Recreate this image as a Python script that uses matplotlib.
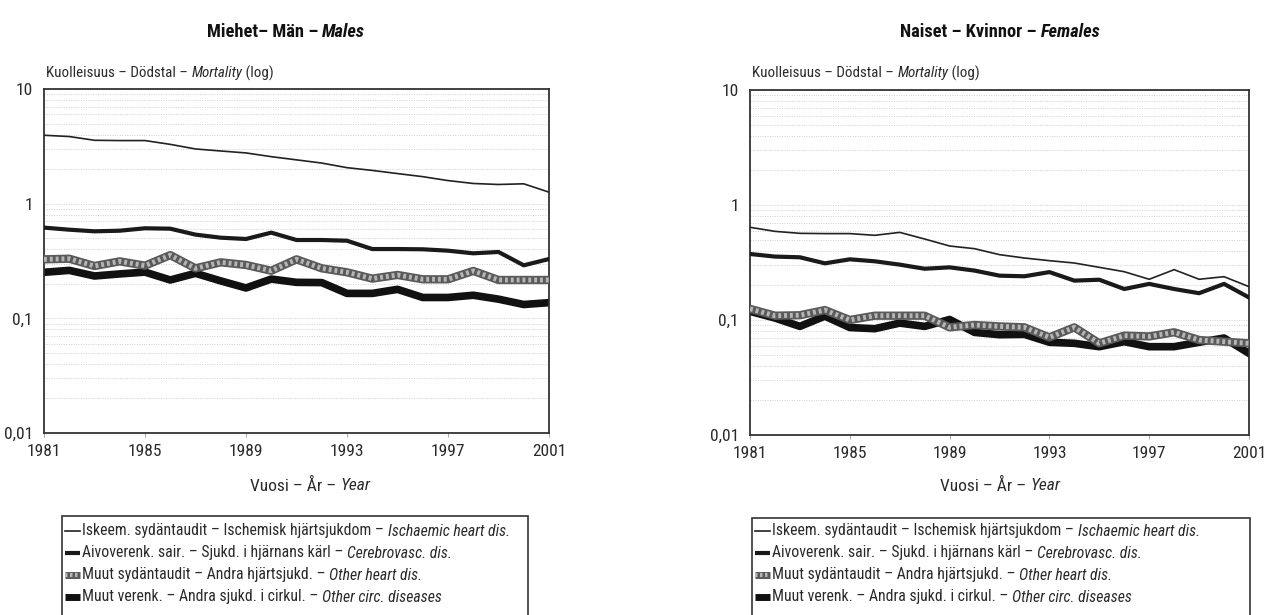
import matplotlib
matplotlib.use('Agg')
import matplotlib.pyplot as plt
from matplotlib import font_manager as fm
from matplotlib.patches import Rectangle
from matplotlib.lines import Line2D

# ---------------- data ----------------
years = list(range(1981, 2002))

male_ischaemic = [3.95, 3.85, 3.57, 3.55, 3.55, 3.29, 3.00, 2.88, 2.77, 2.57, 2.41,
                  2.26, 2.06, 1.95, 1.83, 1.72, 1.59, 1.50, 1.47, 1.49, 1.26]
male_cerebro = [0.618, 0.593, 0.574, 0.581, 0.610, 0.605, 0.537, 0.505, 0.492, 0.559, 0.482,
                0.482, 0.475, 0.402, 0.402, 0.400, 0.389, 0.369, 0.379, 0.290, 0.329]
male_otherheart = [0.327, 0.331, 0.286, 0.314, 0.288, 0.356, 0.273, 0.308, 0.292, 0.260, 0.327,
                   0.273, 0.252, 0.222, 0.239, 0.219, 0.219, 0.259, 0.216, 0.216, 0.216]
male_othercirc = [0.252, 0.262, 0.234, 0.244, 0.253, 0.216, 0.247, 0.212, 0.184, 0.220, 0.206,
                  0.205, 0.165, 0.165, 0.179, 0.152, 0.152, 0.159, 0.147, 0.132, 0.137]

female_ischaemic = [0.640, 0.590, 0.567, 0.564, 0.564, 0.545, 0.578, 0.506, 0.440, 0.417, 0.370,
                    0.346, 0.328, 0.313, 0.287, 0.263, 0.226, 0.274, 0.226, 0.238, 0.195]
female_cerebro = [0.375, 0.356, 0.351, 0.311, 0.337, 0.324, 0.303, 0.279, 0.287, 0.269, 0.243,
                  0.240, 0.261, 0.220, 0.224, 0.186, 0.206, 0.186, 0.171, 0.206, 0.157]
female_otherheart = [0.125, 0.109, 0.110, 0.122, 0.100, 0.109, 0.109, 0.109, 0.0863, 0.0905, 0.088,
                     0.0863, 0.0706, 0.0863, 0.0627, 0.0731, 0.072, 0.0782, 0.067, 0.0648, 0.0627]
female_othercirc = [0.119, 0.104, 0.088, 0.108, 0.086, 0.084, 0.094, 0.088, 0.101, 0.078, 0.0745,
                    0.075, 0.064, 0.0627, 0.0586, 0.0648, 0.0586, 0.0586, 0.064, 0.0697, 0.0513]

x_ticks = [1981, 1985, 1989, 1993, 1997, 2001]
y_ticks = [0.01, 0.1, 1, 10]
y_tick_labels = ['0,01', '0,1', '1', '10']

title_m = [('Miehet– Män – ', 'normal'), ('Males', 'italic')]
title_f = [('Naiset – Kvinnor – ', 'normal'), ('Females', 'italic')]
ylab = [('Kuolleisuus – Dödstal – ', 'normal'), ('Mortality', 'italic'), (' (log)', 'normal')]
xlab = [('Vuosi – År – ', 'normal'), ('Year', 'italic')]
legend_items = [
    [('Iskeem. sydäntaudit – Ischemisk hjärtsjukdom – ', 'normal'), ('Ischaemic heart dis.', 'italic')],
    [('Aivoverenk. sair. – Sjukd. i hjärnans kärl – ', 'normal'), ('Cerebrovasc. dis.', 'italic')],
    [('Muut sydäntaudit – Andra hjärtsjukd. – ', 'normal'), ('Other heart dis.', 'italic')],
    [('Muut verenk. – Andra sjukd. i cirkul. – ', 'normal'), ('Other circ. diseases', 'italic')],
]

# ---------------- fonts ----------------
names = {f.name for f in fm.fontManager.ttflist}
FONT = 'DejaVu Sans'
for cand in ['Liberation Sans Narrow', 'Roboto Condensed', 'Open Sans Condensed', 'Roboto', 'Liberation Sans']:
    if cand in names:
        FONT = cand
        break
plt.rcParams['font.family'] = [FONT, 'DejaVu Sans']

W, H = 1278, 615
fig = plt.figure(figsize=(W / 100, H / 100), dpi=100)
fig.patch.set_facecolor('white')
renderer = fig.canvas.get_renderer()

TXT = '#2a2a2a'


def fx(px):
    return px / W


def fy(py):
    return 1 - py / H


def mixed(x, y, segs, size, ha='left', weight='normal', color=TXT):
    texts = []
    widths = []
    for s, style in segs:
        t = fig.text(0, fy(y), s, fontsize=size, fontstyle=style, fontweight=weight,
                     va='center', ha='left', color=color)
        widths.append(t.get_window_extent(renderer=renderer).width)
        texts.append(t)
    total = sum(widths)
    start = x - total / 2 if ha == 'center' else x
    cur = start
    for t, w in zip(texts, widths):
        t.set_x(fx(cur))
        cur += w


def style_line(ax, y, kind):
    if kind == 'thin':
        ax.plot(years, y, color='#222222', lw=1.2, zorder=5)
    elif kind == 'med':
        ax.plot(years, y, color='#1a1a1a', lw=3.0, zorder=4)
    elif kind == 'hatch':
        ax.plot(years, y, color='#5a5a5a', lw=6.0, zorder=3)
        ax.plot(years, y, color='#b5b5b5', lw=3.5, dashes=(0.6, 0.6), zorder=3.1)
    elif kind == 'thick':
        ax.plot(years, y, color='#111111', lw=5.5, zorder=2)


def make_axes(left, right, top, bottom, series):
    ax = fig.add_axes([fx(left), fy(bottom), fx(right - left), (bottom - top) / H])
    ax.set_yscale('log')
    ax.set_xlim(1981, 2001)
    ax.set_ylim(0.01, 10)
    for y, kind in series:
        style_line(ax, y, kind)
    ax.set_xticks(x_ticks)
    ax.set_xticklabels([str(v) for v in x_ticks], fontsize=12.5, color=TXT)
    ax.set_yticks(y_ticks)
    ax.set_yticklabels(y_tick_labels, fontsize=12.5, color=TXT)
    ax.yaxis.set_minor_locator(matplotlib.ticker.LogLocator(base=10, subs=range(2, 10)))
    ax.yaxis.set_minor_formatter(matplotlib.ticker.NullFormatter())
    ax.tick_params(axis='y', which='both', length=0, pad=8)
    ax.tick_params(axis='x', which='major', length=3, color='#aaaaaa', pad=5)
    ax.grid(True, which='both', axis='y', color='#d0d0d0', lw=0.7, linestyle=(0, (1, 1.5)))
    for sp in ax.spines.values():
        sp.set_color('#333333')
        sp.set_linewidth(1.3)
    ax.set_axisbelow(True)
    return ax


axL = make_axes(44, 549, 89, 433, [(male_othercirc, 'thick'), (male_otherheart, 'hatch'),
                                    (male_cerebro, 'med'), (male_ischaemic, 'thin')])
axR = make_axes(750, 1249, 90, 435, [(female_othercirc, 'thick'), (female_otherheart, 'hatch'),
                                      (female_cerebro, 'med'), (female_ischaemic, 'thin')])

# titles
mixed(286, 32, title_m, 13.2, ha='center', weight='bold', color='#111111')
mixed(1000, 32, title_f, 13.2, ha='center', weight='bold', color='#111111')
# y-labels
mixed(46, 73, ylab, 10.8)
mixed(752, 73, ylab, 10.8)
# x-labels
mixed(310, 486, xlab, 12.5, ha='center')
mixed(1000, 486, xlab, 12.5, ha='center')


def legend(x0, x1, top):
    rect = Rectangle((fx(x0), fy(H + 20)), fx(x1 - x0), (H + 20 - top) / H,
                     transform=fig.transFigure, fill=False, ec='#333333', lw=1.2)
    fig.add_artist(rect)
    ys = [531, 553, 575, 597]
    hx0, hx1 = x0 + 3, x0 + 18
    kinds = ['thin', 'med', 'hatch', 'thick']
    for yy, kind, segs in zip(ys, kinds, legend_items):
        xs = [fx(hx0), fx(hx1)]
        yv = [fy(yy), fy(yy)]
        if kind == 'thin':
            fig.add_artist(Line2D(xs, yv, color='#222222', lw=1.2, transform=fig.transFigure))
        elif kind == 'med':
            fig.add_artist(Line2D(xs, yv, color='#1a1a1a', lw=3.0, transform=fig.transFigure,
                                  solid_capstyle='butt'))
        elif kind == 'hatch':
            fig.add_artist(Line2D(xs, yv, color='#5a5a5a', lw=5.0, transform=fig.transFigure,
                                  solid_capstyle='butt'))
            fig.add_artist(Line2D(xs, yv, color='#b5b5b5', lw=3.0, dashes=(0.6, 0.6),
                                  transform=fig.transFigure))
        else:
            fig.add_artist(Line2D(xs, yv, color='#111111', lw=5.0, transform=fig.transFigure,
                                  solid_capstyle='butt'))
        mixed(hx1 + 2, yy, segs, 11.3)


legend(62, 528, 516)
legend(752, 1250, 518)

fig.savefig('out.png', dpi=100, facecolor='white')
